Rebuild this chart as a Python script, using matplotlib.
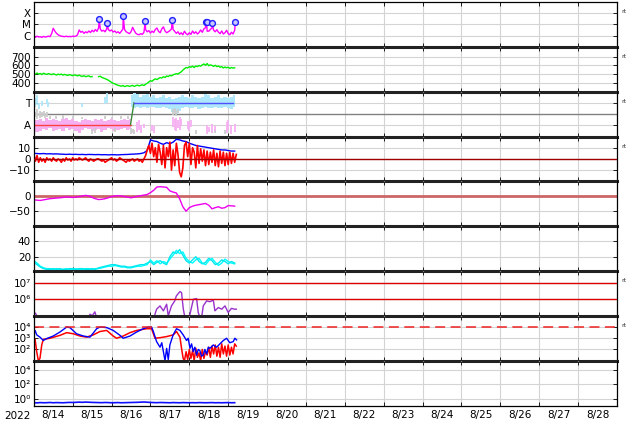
import numpy as np
import pandas as pd
import matplotlib
matplotlib.use("Agg")
import matplotlib.pyplot as plt
import matplotlib.dates as mdates
from matplotlib.ticker import NullLocator, FuncFormatter

# ---- data (hours since 2022-08-14 00:00) ----
# X-ray flux, hourly, in units of 1e-6 W/m2 (C1 = 1)
xray_c = [0.8, 0.7, 0.9, 0.75, 0.8, 0.7, 0.85, 0.75, 0.8, 0.9,
          0.8, 1.5, 4.5, 2.5, 1.6, 1.2, 1.0, 0.9, 0.85, 0.8,
          0.9, 0.8, 0.85, 0.8, 0.9, 0.85, 0.9, 1.2, 3.2, 2.0,
          2.4, 1.6, 2.2, 1.8, 2.6, 1.9, 3.0, 2.2, 3.5, 2.4,
          5.0, 4.0, 2.5, 3.0, 2.2, 4.0, 3.5, 2.6, 3.2, 2.1,
          2.6, 1.8, 2.2, 1.6, 2.4, 4.0, 3.5, 2.2, 1.8, 1.5,
          2.2, 5.5, 2.8, 1.6, 1.3, 1.2, 1.5, 1.3, 2.0, 3.5,
          2.2, 2.8, 1.7, 2.5, 1.9, 3.5, 4.8, 2.4, 1.8, 4.0,
          6.0, 2.6, 1.8, 2.2, 2.8, 4.0, 3.5, 2.4, 1.6, 2.2,
          1.3, 1.8, 1.2, 2.5, 1.5, 1.2, 1.8, 1.3, 2.6, 1.6,
          2.2, 1.4, 1.9, 3.2, 2.0, 4.0, 5.0, 2.5, 2.5, 3.5,
          5.0, 3.0, 2.2, 3.4, 2.0, 1.5, 2.6, 1.4, 1.8, 3.0,
          1.5, 1.2, 2.0, 1.4, 3.0]
flare_h = [40.4, 45.4, 55.2, 68.8, 85.5, 106.0, 106.7, 110.2, 124.4]
flare_c = [30, 12.5, 58, 20, 26, 16, 16, 13, 16]

# solar wind speed, hourly, km/s
speed = [505, 498, 512, 500, 507, 495, 510, 502, 496, 505,
         500, 494, 503, 497, 490, 499, 493, 500, 488, 496,
         490, 485, 494, 488, 482, 491, 486, 480, 488, 478,
         474, 482, 470, 476, 480, 468, 472, np.nan, np.nan, np.nan,
         470, 476, 462, 455, 448, 440, 430, 418, 405, 395,
         388, 380, 372, 368, 362, 370, 358, 364, 368, 360,
         365, 372, 360, 368, 374, 366, 372, 378, 370, 385,
         395, 410, 425, 418, 435, 445, 438, 450, 460, 455,
         470, 462, 478, 472, 485, 480, 492, 498, 505, 500,
         515, 525, 545, 560, 575, 570, 585, 578, 590, 575,
         592, 585, 598, 590, 605, 615, 600, 620, 595, 605,
         598, 588, 600, 585, 592, 578, 585, 570, 580, 572,
         578, 565, 575, 568, 572]

# IMF sector (A=-1, T=+1)
sector_h = [0, 59.7, 61.8, 123]
sector_v = [-1, -1, 1, 1]
pink_lo = [-1.5, -1.7, -1.6, -1.4, -1.5, -1.3, -1.6, -1.5, -1.4, -1.6,
           -1.3, -1.5, -1.4, -1.6, -1.8, -1.5, -1.3, -1.4, -1.6, -1.5,
           -1.4, -1.7, -1.5, -1.3, -1.4, -1.6, -1.5, -1.4, -1.3, -1.5, -1.4]
pink_hi = [-0.5, -0.6, -0.5, -0.7, -0.4, -0.6, -0.5, -0.6, -0.7, -0.5,
           -0.4, -0.6, -0.5, -0.7, -0.8, -0.6, -0.5, -0.6, -0.7, -0.5,
           -0.6, -0.5, -0.7, -0.6, -0.5, -0.6, -0.7, -0.6, -0.5, -0.6, -0.5]
cyanb_lo = [0.6, 0.5, 0.6, 0.55, 0.6, 0.5, 0.65, 0.6, 0.5, 0.55,
            0.6, 0.5, 0.4, 0.2, 0.0, 0.3, 0.5, 0.6, 0.55, 0.5,
            0.6, 0.4, 0.5, 0.6, 0.55, 0.5, 0.6, 0.5, 0.55, 0.6,
            0.5, 0.45, 0.6]
cyanb_hi = [1.7, 1.9, 1.8, 1.6, 1.7, 1.8, 1.6, 1.7, 1.5, 1.6,
            1.7, 1.5, 1.6, 1.4, 1.5, 1.6, 1.7, 1.6, 1.5, 1.7,
            1.6, 1.5, 1.6, 1.8, 1.7, 1.5, 1.6, 1.7, 1.5, 1.6,
            1.5, 1.6, 1.7]
gray_h = [0, 1, 2, 3, 4, 5, 6, 7, 8, 10, 14, 18, 24, 30, 36, 38, 44, 48, 50, 54,
          58, 60, 61, 62, 86, 87, 88, 89, 100, 112, 118]
gray_lo = [-0.4, -0.3, -0.5, -0.2, -0.4, -0.3, -0.2, -0.4, -0.3, -0.5,
           -0.5, -0.5, -0.45, -0.5, -1.9, -1.8, -0.5, -0.5, -1.7, -0.5,
           -0.5, -1.9, -1.8, -1.9, -0.1, 0.0, -0.2, 0.1, -1.9, -1.8, -1.9]
gray_hi = [0.3, 0.2, 0.4, 0.1, 0.3, 0.2, 0.3, 0.1, 0.2, -0.2,
           -0.2, -0.15, -0.2, -0.25, -1.4, -1.3, -0.2, -0.25, -1.3, -0.2,
           -0.2, -1.3, -1.4, -1.5, 0.4, 0.5, 0.3, 0.4, -1.5, -1.4, -1.5]
tdots_h = [0, 1, 2, 3, 5, 8, 9, 30, 44, 45]
tdots_lo = [0.5, 0.6, 0.8, 0.4, 0.7, 0.9, 0.6, 0.6, 0.9, 1.0]
tdots_hi = [1.9, 1.5, 1.7, 1.0, 1.2, 1.4, 1.1, 1.0, 1.6, 1.9]
adots_h = [64, 65, 66, 68, 73, 74, 86, 87, 88, 89, 90, 91, 95, 96, 97,
           107, 108, 110, 112, 119, 120, 122, 124]
adots_lo = [-1.7, -1.5, -1.8, -1.3, -1.6, -1.8, -1.2, -1.5, -1.6, -1.3,
            -1.5, -1.1, -1.4, -1.6, -1.2, -1.9, -1.7, -1.8, -1.6, -1.8,
            -1.5, -1.9, -1.7]
adots_hi = [-0.8, -0.6, -1.0, -0.9, -1.0, -1.1, -0.3, -0.5, -0.4, -0.6,
            -0.3, -0.5, -0.7, -0.8, -0.6, -1.0, -1.2, -0.9, -1.1, -0.8,
            -0.6, -1.0, -0.9]

# IMF Bt (2-hourly) and Bz (hourly), nT
bt = [5.0, 4.8, 4.6, 4.8, 4.5, 4.6, 4.4, 4.5, 4.3, 4.2,
      4.0, 4.2, 4.0, 4.1, 3.9, 4.0, 3.8, 4.0, 3.9, 3.8,
      3.9, 3.7, 3.8, 3.6, 3.8, 3.7, 3.6, 3.8, 3.9, 4.0,
      4.2, 4.3, 4.5, 4.8, 5.5, 7.5, 17.0, 16.0, 15.5, 14.0,
      13.0, 14.5, 13.5, 15.0, 17.5, 17.0, 16.0, 15.5, 14.0, 13.0,
      12.0, 11.5, 11.0, 10.5, 10.0, 9.5, 9.0, 8.5, 8.0, 8.0,
      7.5, 7.0, 7.0]
bz = [4, -2, 3, -3, 1, -2, 0, -3, 1, -1,
      0, -2, 1, -1, -2, 0, -1, -3, 0, -2,
      1, -1, 0, -2, 1, -1, 0, -1, 1, 0,
      -1, 0, 1, -1, -2, 0, -1, -2, -1, 0,
      0, -1, -2, -1, -3, -2, -1, 0, 1, -1,
      0, -2, -1, 1, 0, -1, -2, -3, -1, -2,
      -1, 0, -2, -1, 0, -2, -1, -3, 0, 3,
      8, 12, 5, 14, 2, 10, -3, 13, 6, -5,
      12, -8, 10, 2, 15, -10, 8, -6, 14, 4,
      -12, -16, -8, 12, 15, 2, 14, -5, 10, 6,
      -8, 12, -4, 9, -2, 8, -6, 7, -5, 6,
      -3, 8, -6, 5, -7, 7, -4, 6, -6, 5,
      -5, 6, -4, 5, -3, 4]

# Dst, 2-hourly, nT
dst = [-12, -13, -14, -12, -10, -8, -7, -6, -5, -4,
       -2, -3, -4, -3, -1, 1, 3, 1, -4, -8,
       -11, -10, -8, -5, -1, 1, 2, 1, -1, -3,
       -5, -3, 0, 2, 4, 6, 12, 20, 31, 32,
       31, 30, 18, 14, 11, -8, -35, -50, -38, -33,
       -30, -28, -26, -24, -30, -42, -38, -35, -40, -38,
       -31, -32, -33]

# density, two sources, 2-hourly
dens1 = [15, 12, 8, 6, 5, 5, 4, 5, 4, 4,
         5, 4, 4, 5, 4, 4, 5, 5, 4, 5,
         5, 6, 7, 8, 8, 9, 8, 7, 7, 6,
         6, 7, 8, 8, 9, 10, 16, 12, 15, 11,
         14, 12, 17, 22, 28, 24, 26, 18, 14, 12,
         16, 18, 12, 10, 15, 18, 13, 9, 12, 17,
         14, 12, 11]
dens2 = [13, 10, 7, 5, 4, 4, 5, 4, 5, 4,
         4, 5, 5, 4, 5, 5, 4, 4, 5, 4,
         6, 7, 8, 9, 10, 10, 9, 8, 8, 7,
         7, 8, 9, 10, 10, 12, 14, 10, 13, 15,
         12, 10, 20, 26, 24, 29, 22, 15, 12, 16,
         20, 14, 11, 13, 18, 15, 10, 12, 16, 14,
         11, 14, 12]

# electron flux (log10)
elec_h = [0, 0.5, 1.4, 2.5, 10, 20, 30, 33.5, 34.7, 36, 37.7, 39, 50, 60, 70,
          74, 74.8, 75.8, 77.9, 80, 82, 83, 85, 87, 88, 90.2, 91.2, 92.3, 93.3, 95,
          96.4, 98.5, 100.5, 101.5, 102.6, 103.6, 104.6, 106.7, 108.7, 110.8,
          111.8, 113.9, 116, 118, 120, 122, 124, 125]
elec_log = [5.2, 5.2, 5.1, 4.7, 4.6, 4.6, 4.6, 4.8, 5.1, 5.0, 5.24, 4.8, 4.6, 4.6, 4.6,
            4.8, 5.1, 5.4, 5.6, 5.3, 5.7, 5.0, 5.6, 5.9, 6.2, 6.46, 6.4, 5.4, 4.9, 4.8,
            5.1, 6.0, 6.04, 5.2, 4.9, 4.9, 5.6, 5.9, 5.85, 5.95,
            5.3, 5.5, 5.4, 5.6, 5.2, 5.45, 5.4, 5.4]

# proton flux (log10), two channels
prot_b_h = [0, 0.8, 1.8, 3.8, 5.9, 7.9, 12, 16.2, 20.3, 22.3, 26.4, 30.6, 34.7, 38.8,
            40.8, 45, 49, 53.2, 55.2, 59.4, 63.5, 67.6, 70.7, 72.7, 73.8, 75.8, 77.9,
            79, 80, 81, 82, 83, 84, 86, 88.1, 90.2, 92.2, 94.3, 95.3, 96.4, 97.4,
            98.4, 99.4, 100.5, 101.5, 102.5, 103.5, 104.6, 105.6, 106.7, 107.7,
            108.7, 110.8, 112.8, 114.9, 117, 119, 121, 123.1, 124.1, 125.2]
prot_b_log = [3.26, 3.7, 3.3, 3.1, 2.8, 2.97, 3.2, 3.56, 4.0, 3.95, 3.4, 3.2, 3.1, 3.85,
              4.0, 3.95, 3.7, 3.26, 3.0, 3.2, 3.56, 3.85, 4.0, 4.0, 3.6, 2.7, 2.2,
              2.6, 1.8, 1.0, 2.1, 1.1, 2.4, 3.3, 3.85, 3.7, 3.3, 2.8, 3.0, 2.1, 2.5,
              1.8, 2.2, 1.5, 2.0, 1.9, 1.4, 1.5, 2.0, 1.6, 2.2,
              2.1, 2.4, 2.2, 2.5, 2.8, 3.0, 2.6, 2.7, 3.0, 2.85]
prot_r_h = [0, 0.8, 1.8, 2.8, 3.8, 4.9, 5.9, 10, 16.2, 20.3, 24.4, 28.5, 32.6, 36.7,
            40.8, 45, 49, 51.1, 55.2, 59.4, 63.5, 69.6, 72.7, 74.8, 77.9, 82, 86.1,
            88.1, 90.2, 91.2, 92.2,
            93, 94, 95, 96, 97, 98, 99, 100, 101, 102, 103, 104, 105, 106, 107, 108,
            109, 110, 111, 112, 113, 114, 115, 116, 117, 118, 119, 120, 121, 122,
            123, 124, 125]
prot_r_log = [3.0, 2.9, 1.8, 1.0, 1.2, 2.4, 2.9, 3.0, 3.26, 3.5, 3.4, 3.2, 3.1, 3.3,
              3.6, 3.7, 3.2, 3.0, 3.2, 3.5, 3.7, 3.85, 3.85, 3.0, 3.05, 3.15, 3.3,
              3.6, 3.1, 2.1, 1.2,
              1.0, 1.8, 1.1, 2.0, 1.2, 1.9, 1.0, 2.1, 1.3, 1.7, 1.0, 2.0, 1.2, 1.8,
              1.5, 2.2, 1.3, 2.3, 1.6, 2.4, 1.4, 2.2, 1.3, 2.5, 1.6, 2.3, 1.4, 2.4,
              1.5, 2.2, 1.6, 2.5, 2.3]

# bottom panel flux, 2-hourly
flux9 = [0.34, 0.32, 0.35, 0.33, 0.34, 0.36, 0.33, 0.35, 0.34, 0.33,
         0.35, 0.37, 0.36, 0.38, 0.40, 0.38, 0.41, 0.39, 0.37, 0.36,
         0.35, 0.34, 0.36, 0.35, 0.33, 0.34, 0.35, 0.33, 0.34, 0.35,
         0.36, 0.37, 0.38, 0.40, 0.42, 0.39, 0.37, 0.35, 0.34, 0.36,
         0.35, 0.34, 0.33, 0.35, 0.34, 0.33, 0.35, 0.34, 0.33, 0.34,
         0.33, 0.35, 0.34, 0.33, 0.34, 0.35, 0.33, 0.34, 0.33, 0.34,
         0.35, 0.33, 0.34]

T0 = mdates.date2num(pd.Timestamp("2022-08-14"))


def tx(hours):
    return T0 + np.asarray(hours, dtype=float) / 24.0


def every(step, n):
    return tx(np.arange(n) * step)


GRID = "#d4d4d4"
FS = 7.5

fig = plt.figure(figsize=(6.34, 4.24), dpi=100)
axes = fig.subplots(9, 1, sharex=True, gridspec_kw=dict(hspace=0))
fig.subplots_adjust(left=33.8 / 634, right=617 / 634, top=1 - 2 / 424, bottom=1 - 405.5 / 424)

# 1: X-ray
ax = axes[0]
xh = np.concatenate([np.arange(len(xray_c)), flare_h])
xv = np.concatenate([xray_c, flare_c]) * 1e-6
order = np.argsort(xh)
ax.plot(tx(xh[order]), xv[order], color="#ff00ff", lw=1.0)
ax.plot(tx(flare_h), np.array(flare_c) * 1e-6, "o", ms=4.2, mfc="#c8c8ff", mec="#2020ff", mew=1.0)
ax.set_yscale("log")
ax.set_ylim(1e-7, 1e-3)
ax.set_yticks([1e-6, 1e-5, 1e-4])
ax.set_yticklabels(["C", "M", "X"])

# 2: speed
ax = axes[1]
ax.plot(every(1, len(speed)), speed, color="#00ee00", lw=1.0)
ax.set_ylim(300, 810)
ax.set_yticks([400, 500, 600, 700])

# 3: sector
ax = axes[2]
ax.axhline(0, color="#808080", lw=1.0, zorder=1)
ax.fill_between(every(2, len(pink_lo)), pink_lo, pink_hi, color="#f6b0f2", lw=0, step="mid")
ax.fill_between(tx(60 + np.arange(len(cyanb_lo)) * 2), cyanb_lo, cyanb_hi, color="#aee6fb", lw=0, step="mid")
ax.vlines(tx(gray_h), gray_lo, gray_hi, color="#cccccc", lw=1.3)
ax.vlines(tx(tdots_h), tdots_lo, tdots_hi, color="#aee6fb", lw=1.3)
ax.vlines(tx(adots_h), adots_lo, adots_hi, color="#f6b0f2", lw=1.3)
sx = tx(sector_h)
ax.plot(sx[0:2], sector_v[0:2], color="#ff4040", lw=1.0)
ax.plot(sx[1:3], sector_v[1:3], color="#3a8a3a", lw=1.0)
ax.plot(sx[2:4], sector_v[2:4], color="#5050ff", lw=1.0)
ax.set_ylim(-2.1, 2.05)
ax.set_yticks([-1, 1])
ax.set_yticklabels(["A", "T"])

# 4: Bt / Bz
ax = axes[3]
ax.plot(every(2, len(bt)), bt, color="#0000ff", lw=1.0)
ax.plot(every(1, len(bz)), bz, color="#ff0000", lw=1.2)
ax.axhline(0, color="#a00000", lw=1.0, zorder=3)
ax.set_ylim(-20, 20)
ax.set_yticks([-10, 0, 10])

# 5: Dst
ax = axes[4]
ax.axhline(0, color="#cc6666", lw=2.0, zorder=1)
ax.plot(every(2, len(dst)), dst, color="#ee00ee", lw=1.0)
ax.set_ylim(-100, 50)
ax.set_yticks([-50, 0])

# 6: density
ax = axes[5]
ax.plot(every(2, len(dens1)), dens1, color="#00ffff", lw=1.0)
ax.plot(every(2, len(dens2)), dens2, color="#00e8f0", lw=1.0)
ax.set_ylim(2, 58.5)
ax.set_yticks([20, 40])

# 7: electrons
ax = axes[6]
ax.plot(tx(elec_h), 10 ** np.array(elec_log), color="#9932cc", lw=1.0)
ax.axhline(1e7, color="#dd0000", lw=1.0)
ax.axhline(1e6, color="#dd0000", lw=1.0)
ax.set_yscale("log")
ax.set_ylim(1e5, 10 ** 7.7)
ax.set_yticks([1e6, 1e7])
ax.set_yticklabels(["10⁶", "10⁷"])

# 8: protons
ax = axes[7]
ax.plot(tx(prot_r_h), 10 ** np.array(prot_r_log), color="#ff0000", lw=1.1)
ax.plot(tx(prot_b_h), 10 ** np.array(prot_b_log), color="#0000ff", lw=1.0)
ax.axhline(1e4, color="#ee2222", lw=1.1, ls=(0, (6.5, 3.6)))
ax.set_yscale("log")
ax.set_ylim(10, 1e5)
ax.set_yticks([1e2, 1e3, 1e4])
ax.set_yticklabels(["10²", "10³", "10⁴"])

# 9: bottom flux
ax = axes[8]
ax.plot(every(2, len(flux9)), flux9, color="#1010ff", lw=1.2)
ax.set_yscale("log")
ax.set_ylim(10 ** -0.85, 10 ** 5.2)
ax.set_yticks([1e0, 1e2, 1e4])
ax.set_yticklabels(["10⁰", "10²", "10⁴"])

# common styling
for i, ax in enumerate(axes):
    ax.set_facecolor("none")
    ax.yaxis.set_minor_locator(NullLocator())
    ax.grid(True, which="major", color=GRID, lw=0.8, zorder=0)
    ax.set_axisbelow(True)
    ax.tick_params(axis="y", which="major", direction="in", length=3, left=True, right=True,
                   labelsize=FS, pad=2, width=0.6)
    ax.tick_params(axis="x", which="major", direction="in", length=3, top=True, bottom=True,
                   labelbottom=False, width=0.6)
    ax.tick_params(axis="x", which="minor", length=0, labelsize=FS, pad=3)
    for s in ax.spines.values():
        s.set_linewidth(0.9)
    if i < 8:
        ax.spines["bottom"].set_linewidth(2.2)
        ax.spines["bottom"].set_color("#222222")
    if i > 0:
        ax.spines["top"].set_visible(False)

axes[0].set_xlim(T0, T0 + 15)
axes[-1].xaxis.set_major_locator(mdates.DayLocator())
axes[-1].xaxis.set_minor_locator(mdates.HourLocator(byhour=[12]))
axes[-1].xaxis.set_minor_formatter(
    FuncFormatter(lambda v, p: "%d/%d" % (mdates.num2date(v).month, mdates.num2date(v).day)))
axes[-1].tick_params(axis="x", which="minor", labelbottom=True)

fig.text(17 / 634, 1 - 416 / 424, "2022", ha="center", va="center", fontsize=FS)

for i in [0, 1, 2, 3, 6, 7]:
    axes[i].text(1.008, 0.78, "rt", transform=axes[i].transAxes, fontsize=4.5,
                 color="#333333", va="center", ha="left")

fig.savefig("out.png", dpi=100)
